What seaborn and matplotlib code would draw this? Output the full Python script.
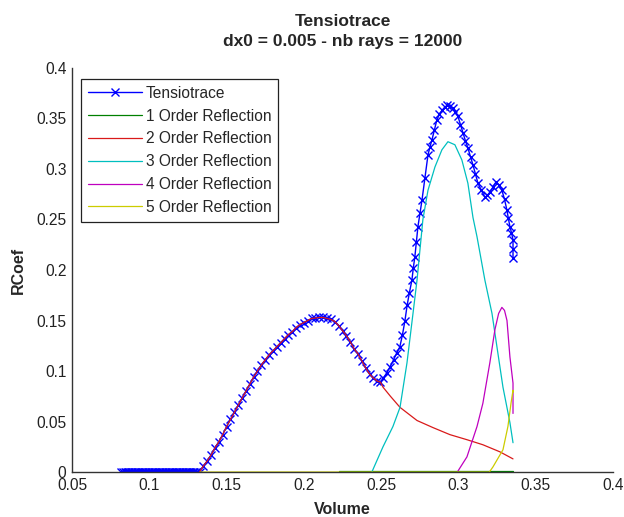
import numpy as np
import pandas as pd
import seaborn as sns
import matplotlib.pyplot as plt

# --- values ---
# flat part of the Tensiotrace at 0 (very dense markers, looks like a thick bar)
flat_x = [0.082, 0.083, 0.084, 0.085, 0.086, 0.087, 0.088, 0.089, 0.090, 0.091,
          0.092, 0.093, 0.094, 0.095, 0.096, 0.097, 0.098, 0.099, 0.100, 0.101,
          0.102, 0.103, 0.104, 0.105, 0.106, 0.107, 0.108, 0.109, 0.110, 0.111,
          0.112, 0.113, 0.114, 0.115, 0.116, 0.117, 0.118, 0.119, 0.120, 0.121,
          0.122, 0.123, 0.124, 0.125, 0.126, 0.127, 0.128, 0.129, 0.130, 0.131]

# first hump (2nd order reflection lies on top of it)
hump_x = [0.1325, 0.135, 0.1375, 0.140, 0.1425, 0.145, 0.1475, 0.150, 0.1525, 0.155,
          0.1575, 0.160, 0.1625, 0.165, 0.1675, 0.170, 0.1725, 0.175, 0.1775, 0.180,
          0.1825, 0.185, 0.1875, 0.190, 0.1925, 0.195, 0.1975, 0.200, 0.2025, 0.205,
          0.2075, 0.210, 0.2125, 0.215, 0.2175, 0.220, 0.2225, 0.225, 0.2275, 0.230,
          0.2325, 0.235, 0.2375, 0.240, 0.2425, 0.245, 0.2475, 0.2495]
hump_y = [0.000, 0.006, 0.011, 0.017, 0.024, 0.030, 0.037, 0.045, 0.052, 0.059,
          0.066, 0.073, 0.080, 0.087, 0.094, 0.100, 0.106, 0.111, 0.116, 0.120,
          0.124, 0.128, 0.132, 0.136, 0.139, 0.143, 0.146, 0.148, 0.150, 0.152,
          0.1525, 0.153, 0.153, 0.152, 0.151, 0.149, 0.145, 0.140, 0.135, 0.129,
          0.122, 0.117, 0.110, 0.103, 0.097, 0.093, 0.090, 0.089]

# second part of the Tensiotrace (big peak + small peak)
peak_x = [0.2515, 0.2535, 0.2557, 0.2580, 0.2601, 0.2621, 0.2638, 0.2654, 0.2668, 0.2682,
          0.2699, 0.2708, 0.2718, 0.2728, 0.2738, 0.2751, 0.2764, 0.2783, 0.2803, 0.2816,
          0.2829, 0.2845, 0.2861, 0.2877, 0.2893, 0.2910, 0.2926, 0.2945, 0.2964, 0.2980,
          0.2997, 0.3013, 0.3029, 0.3045, 0.3061, 0.3078, 0.3094, 0.3110, 0.3126, 0.3148,
          0.3171, 0.3187, 0.3203, 0.3223, 0.3242, 0.3262, 0.3281, 0.3298, 0.3314, 0.3323,
          0.3333, 0.3343, 0.3353, 0.3353, 0.3353]
peak_y = [0.093, 0.098, 0.104, 0.111, 0.118, 0.124, 0.136, 0.150, 0.165, 0.177,
          0.190, 0.202, 0.213, 0.228, 0.243, 0.256, 0.269, 0.291, 0.314, 0.322,
          0.329, 0.339, 0.349, 0.354, 0.358, 0.361, 0.363, 0.362, 0.360, 0.356,
          0.352, 0.344, 0.336, 0.328, 0.321, 0.312, 0.304, 0.295, 0.286, 0.279,
          0.272, 0.274, 0.277, 0.282, 0.287, 0.284, 0.279, 0.270, 0.259, 0.251,
          0.243, 0.237, 0.230, 0.221, 0.212]

order1_x = [0.223, 0.3355]
order1_y = [0.0008, 0.0008]

order2_tail_x = [0.2512, 0.2560, 0.2622, 0.2732, 0.2835, 0.2945, 0.3055, 0.3158, 0.3268, 0.3353]
order2_tail_y = [0.084, 0.075, 0.064, 0.051, 0.044, 0.037, 0.032, 0.027, 0.020, 0.013]

order3_x = [0.2440, 0.2460, 0.2512, 0.2576, 0.2622, 0.2667, 0.2706, 0.2732, 0.2770, 0.2803,
            0.2848, 0.2893, 0.2932, 0.2977, 0.3022, 0.3061, 0.3094, 0.3120, 0.3171, 0.3217,
            0.3249, 0.3288, 0.3333, 0.3353]
order3_y = [0.000, 0.007, 0.025, 0.045, 0.064, 0.108, 0.157, 0.190, 0.250, 0.279,
            0.302, 0.319, 0.327, 0.324, 0.309, 0.286, 0.252, 0.233, 0.190, 0.157,
            0.124, 0.084, 0.049, 0.029]

order4_x = [0.2997, 0.3055, 0.3120, 0.3158, 0.3203, 0.3236, 0.3260, 0.3281, 0.3298, 0.3314,
            0.3333, 0.3353, 0.3353]
order4_y = [0.001, 0.015, 0.045, 0.068, 0.108, 0.141, 0.157, 0.163, 0.160, 0.150,
            0.114, 0.088, 0.058]

order5_x = [0.1330, 0.3200, 0.3223, 0.3288, 0.3320, 0.3340, 0.3353, 0.3353]
order5_y = [0.000, 0.000, 0.005, 0.022, 0.045, 0.068, 0.081, 0.079]

xticks = [0.05, 0.1, 0.15, 0.2, 0.25, 0.3, 0.35, 0.4]
xtick_labels = ['0.05', '0.1', '0.15', '0.2', '0.25', '0.3', '0.35', '0.4']
yticks = [0, 0.05, 0.1, 0.15, 0.2, 0.25, 0.3, 0.35, 0.4]
ytick_labels = ['0', '0.05', '0.1', '0.15', '0.2', '0.25', '0.3', '0.35', '0.4']

# assemble the series
tensio_x = flat_x + hump_x + peak_x
tensio_y = [0.0] * len(flat_x) + hump_y + peak_y
order2_x = hump_x + order2_tail_x
order2_y = hump_y + order2_tail_y

series = [
    ('Tensiotrace', tensio_x, tensio_y, (0, 0, 1)),
    ('1 Order Reflection', order1_x, order1_y, (0, 0.5, 0)),
    ('2 Order Reflection', order2_x, order2_y, (0.85, 0.1, 0.1)),
    ('3 Order Reflection', order3_x, order3_y, (0, 0.75, 0.75)),
    ('4 Order Reflection', order4_x, order4_y, (0.75, 0, 0.75)),
    ('5 Order Reflection', order5_x, order5_y, (0.8, 0.8, 0)),
]

sns.set_style('white')
plt.rcParams['font.family'] = ['Liberation Sans', 'DejaVu Sans']

fig = plt.figure(figsize=(6.24, 5.17), dpi=100)
ax = fig.add_axes([0.1154, 0.087, 0.867, 0.7815])

for name, xs, ys, col in series:
    df = pd.DataFrame({'Volume': xs, 'RCoef': ys})
    if name == 'Tensiotrace':
        sns.lineplot(data=df, x='Volume', y='RCoef', ax=ax, sort=False, estimator=None,
                     color=col, linewidth=1.0, marker='x', markersize=5.5,
                     markeredgewidth=1.0, markeredgecolor=col, label=name)
    else:
        sns.lineplot(data=df, x='Volume', y='RCoef', ax=ax, sort=False, estimator=None,
                     color=col, linewidth=0.9, label=name)

ax.set_xlim(0.05, 0.4)
ax.set_ylim(0, 0.4)
ax.set_xticks(xticks)
ax.set_xticklabels(xtick_labels)
ax.set_yticks(yticks)
ax.set_yticklabels(ytick_labels)
ax.tick_params(direction='in', length=5, width=0.8, labelsize=11.2, colors='#222222',
               pad=4)

for side in ['top', 'right']:
    ax.spines[side].set_visible(False)
for side in ['left', 'bottom']:
    ax.spines[side].set_color('#333333')
    ax.spines[side].set_linewidth(1.0)

ax.set_xlabel('Volume', fontsize=11.5, fontweight='bold')
ax.set_ylabel('RCoef', fontsize=11.5, fontweight='bold')
ax.xaxis.set_label_coords(0.5, -0.074)
ax.yaxis.set_label_coords(-0.085, 0.5)
ax.set_title('Tensiotrace\ndx0 = 0.005 - nb rays = 12000', fontsize=12.5,
             fontweight='bold', pad=16, linespacing=1.4)

leg = ax.legend(loc='upper left', bbox_to_anchor=(0.0166, 0.973), borderaxespad=0,
                fontsize=11.2, handlelength=3.5, handletextpad=0.2, labelspacing=0.5,
                borderpad=0.45, fancybox=False, framealpha=1, edgecolor='#222222')
leg.get_frame().set_linewidth(0.9)

fig.savefig('out.png', dpi=100)
